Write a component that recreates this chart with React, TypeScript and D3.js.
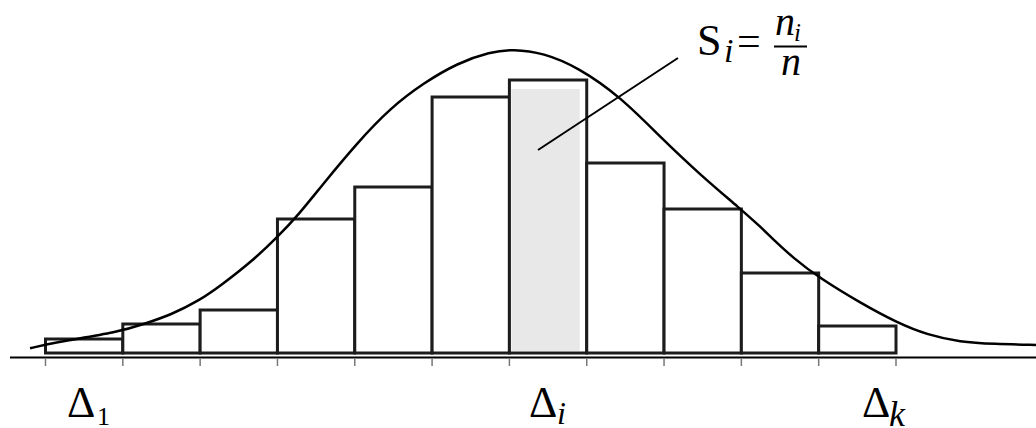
import React from "react";
import * as d3 from "d3";

// Histogram bar heights (relative frequency units, one per interval Δ1..Δk)
const barHeights = [14, 29, 43, 134, 166, 256, 273, 190, 144, 80, 27];
const highlightIndex = 6; // Δi

const curveX = [-0.2, 0.1, 0.97, 1.27, 1.62, 2.0, 2.26, 2.69, 3.0, 3.27, 3.6, 4.03, 4.46, 4.89, 5.33, 5.75, 6.05, 6.44, 6.88, 7.44, 7.95, 8.47, 8.99, 9.25, 9.38, 9.67, 10.01, 10.54, 11.02, 11.41, 11.83, 12.26, 12.82];
const curveY = [4.7, 10.3, 21.3, 29, 38, 53, 67, 93, 116, 138, 170, 210, 245, 270, 290, 301, 304, 300, 286, 256, 216, 178, 144, 126, 116, 95, 75, 50, 30, 18, 11, 9, 8];

// Leader line for the S_i annotation (interval units, value units)
const leaderStart = [6.37, 203];
const leaderEnd = [8.18, 295];

const W = 1036;
const H = 428;

export default function App() {
  const nBins = barHeights.length;
  const x = d3.scaleLinear().domain([0, nBins]).range([45.5, 896]);
  const y = d3.scaleLinear().domain([0, 300]).range([353, 53]);
  const edges = d3.range(nBins + 1);

  const line = d3
    .line<number>()
    .x((_, i) => x(curveX[i]))
    .y((d) => y(d))
    .curve(d3.curveBasis);

  const stroke = "#1c1c1c";
  const ts = { fontFamily: '"Liberation Serif", "Times New Roman", serif' };

  return (
    <div style={{ position: "absolute", left: 0, top: 0 }}>
      <svg width={W} height={H} viewBox={`0 0 ${W} ${H}`} style={{ display: "block", background: "#fff" }}>
        {/* axis */}
        <line x1={10} x2={W} y1={357.5} y2={357.5} stroke="#000" strokeWidth={2} />
        {edges.map((e) => (
          <line key={"t" + e} x1={x(e)} x2={x(e)} y1={358.5} y2={366} stroke="#777" strokeWidth={1.5} />
        ))}
        {/* bars */}
        {barHeights.map((v, i) => (
          <g key={"b" + i}>
            <rect
              x={x(i)}
              y={y(v)}
              width={x(i + 1) - x(i)}
              height={y(0) - y(v)}
              fill="#fff"
              stroke={stroke}
              strokeWidth={3}
            />
            {i === highlightIndex && (
              <rect
                x={x(i) + 2}
                y={y(v) + 9}
                width={x(i + 1) - x(i) - 9}
                height={y(0) - y(v) - 11}
                fill="#e8e8e8"
              />
            )}
          </g>
        ))}
        {/* density curve */}
        <path d={line(curveY) || ""} fill="none" stroke="#000" strokeWidth={2.5} />
        {/* leader line */}
        <line
          x1={x(leaderStart[0])}
          y1={y(leaderStart[1])}
          x2={x(leaderEnd[0])}
          y2={y(leaderEnd[1])}
          stroke="#000"
          strokeWidth={2}
        />
        {/* formula S_i = n_i / n */}
        <g fill="#000">
          <text x={697} y={55} fontSize={44} style={ts}>S</text>
          <text x={724} y={62} fontSize={34} fontStyle="italic" style={ts}>i</text>
          <text x={737} y={55} fontSize={42} style={ts}>=</text>
          <text x={775} y={35} fontSize={40} fontStyle="italic" style={ts}>n</text>
          <text x={794} y={41} fontSize={25} fontStyle="italic" style={ts}>i</text>
          <line x1={774} x2={807} y1={46.5} y2={46.5} stroke="#000" strokeWidth={2} />
          <text x={781} y={75} fontSize={40} fontStyle="italic" style={ts}>n</text>
        </g>
        {/* interval labels */}
        <g fill="#000">
          <text x={67} y={417} fontSize={44} style={ts}>Δ</text>
          <text x={97} y={425} fontSize={26} style={ts}>1</text>
          <text x={529} y={417} fontSize={44} style={ts}>Δ</text>
          <text x={557} y={424} fontSize={32} fontStyle="italic" style={ts}>i</text>
          <text x={862} y={417} fontSize={44} style={ts}>Δ</text>
          <text x={889} y={426} fontSize={36} fontStyle="italic" style={ts}>k</text>
        </g>
      </svg>
    </div>
  );
}
